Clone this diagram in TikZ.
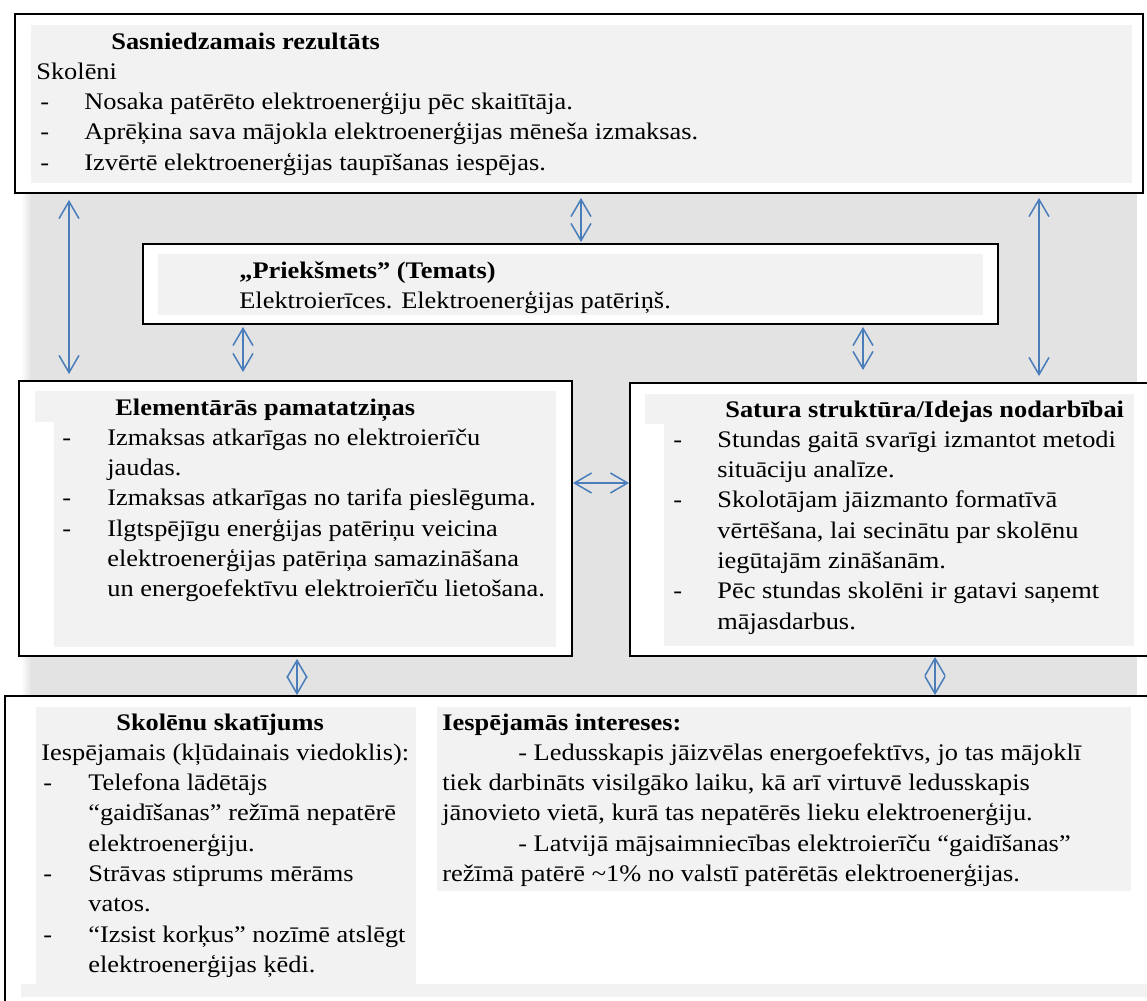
\documentclass[tikz,border=0pt]{standalone}
\usepackage{fontspec}
\setmainfont{Liberation Serif}[FakeStretch=1.11]
\usepackage{tikz}
\usetikzlibrary{arrows.meta}
\usetikzlibrary{fit}
\newlength{\pxu}
\setlength{\pxu}{0.526pt}
\definecolor{arrowblue}{HTML}{4A7EBB}
\definecolor{panelgray}{HTML}{E3E3E3}
\definecolor{shadegray}{HTML}{F2F2F2}
\newcommand{\dsh}[1]{\makebox[#1\pxu][l]{-}}
\newcommand{\ind}[1]{\hspace*{#1\pxu}}
\tikzset{box/.style={draw=black, line width=1pt, fill=white, inner sep=0pt},
         txt/.style={anchor=base west, inner sep=0pt, font=\fontsize{12.5}{15.94}\selectfont},
         arr/.style={draw=arrowblue, line width=0.8pt,
                     {Straight Barb[length=9pt,width=10.5pt]}-{Straight Barb[length=9pt,width=10.5pt]}}}

\begin{document}
\begin{tikzpicture}[x=0.526pt,y=-0.526pt]
\useasboundingbox (0,0) rectangle (1147,1001);
\fill[white] (0,0) rectangle (1147,1001);
% grey panel behind the boxes
\shade[left color=white,right color=panelgray] (21,193) rectangle (31,696);
\fill[panelgray] (31,193) rectangle (1137,696);

% boxes
\node[box, fit={(15,14) (1143,193)}] (res) {};
\node[box, fit={(143,244) (998,324)}] (pri) {};
\node[box, fit={(19,381) (572,656)}] (elem) {};
\node[box, fit={(630,383) (1152,656)}] (sat) {};
\node[box, fit={(5,696) (1165,1020)}] (skol) {};

% shading inside the boxes
\fill[shadegray] (31,25) rectangle (1132,183);
\fill[shadegray] (158,254) rectangle (983,315);
\fill[shadegray] (35,391) rectangle (556,422);
\fill[shadegray] (54,422) rectangle (556,647);
\fill[shadegray] (645,394) rectangle (1134,424);
\fill[shadegray] (664,424) rectangle (1134,646);
\fill[shadegray] (36,707) rectangle (416,984);
\fill[shadegray] (437,707) rectangle (1131,891);
\fill[shadegray] (21,984) rectangle (1147,997);

% texts
\node[txt] (restxt) at (36,49) {\begin{tabular}[t]{@{}l@{}}
\ind{75}\textbf{Sasniedzamais rezultāts}\\
Skolēni\\
\ind{4}\dsh{44}Nosaka patērēto elektroenerģiju pēc skaitītāja.\\
\ind{4}\dsh{44}Aprēķina sava mājokla elektroenerģijas mēneša izmaksas.\\
\ind{4}\dsh{44}Izvērtē elektroenerģijas taupīšanas iespējas.
\end{tabular}};
\node[txt] (pritxt) at (239,278) {\begin{tabular}[t]{@{}l@{}}
\textbf{„Priekšmets” (Temats)}\\
Elektroierīces. Elektroenerģijas patēriņš.
\end{tabular}};
\node[txt] (elemtxt) at (62,415) {\begin{tabular}[t]{@{}l@{}}
\ind{53}\textbf{Elementārās pamatatziņas}\\
\dsh{45}Izmaksas atkarīgas no elektroierīču\\
\ind{45}jaudas.\\
\dsh{45}Izmaksas atkarīgas no tarifa pieslēguma.\\
\dsh{45}Ilgtspējīgu enerģijas patēriņu veicina\\
\ind{45}elektroenerģijas patēriņa samazināšana\\
\ind{45}un energoefektīvu elektroierīču lietošana.
\end{tabular}};
\node[txt] (sattxt) at (673,417) {\begin{tabular}[t]{@{}l@{}}
\ind{52}\textbf{Satura struktūra/Idejas nodarbībai}\\
\dsh{44}Stundas gaitā svarīgi izmantot metodi\\
\ind{44}situāciju analīze.\\
\dsh{44}Skolotājam jāizmanto formatīvā\\
\ind{44}vērtēšana, lai secinātu par skolēnu\\
\ind{44}iegūtajām zināšanām.\\
\dsh{44}Pēc stundas skolēni ir gatavi saņemt\\
\ind{44}mājasdarbus.
\end{tabular}};
\node[txt] (skoltxt) at (41,730) {\begin{tabular}[t]{@{}l@{}}
\ind{75}\textbf{Skolēnu skatījums}\\
Iespējamais (kļūdainais viedoklis):\\
\ind{2}\dsh{45}Telefona lādētājs\\
\ind{47}“gaidīšanas” režīmā nepatērē\\
\ind{47}elektroenerģiju.\\
\ind{2}\dsh{45}Strāvas stiprums mērāms\\
\ind{47}vatos.\\
\ind{2}\dsh{45}“Izsist korķus” nozīmē atslēgt\\
\ind{47}elektroenerģijas ķēdi.
\end{tabular}};
\node[txt] (inttxt) at (442,730) {\begin{tabular}[t]{@{}l@{}}
\textbf{Iespējamās intereses:}\\
\ind{76}- Ledusskapis jāizvēlas energoefektīvs, jo tas mājoklī\\
tiek darbināts visilgāko laiku, kā arī virtuvē ledusskapis\\
jānovieto vietā, kurā tas nepatērēs lieku elektroenerģiju.\\
\ind{76}- Latvijā mājsaimniecības elektroierīču “gaidīšanas”\\
režīmā patērē \textasciitilde1\% no valstī patērētās elektroenerģijas.
\end{tabular}};

% arrows
\coordinate (c1) at (69,0);
\coordinate (c2) at (581,0);
\coordinate (c3) at (1039,0);
\coordinate (c4) at (243,0);
\coordinate (c5) at (863,0);
\coordinate (c6) at (0,483);
\coordinate (c7) at (297,0);
\coordinate (c8) at (935,0);
\draw[arr, shorten <=6\pxu, shorten >=6\pxu] (res.south -| c1) -- (elem.north -| c1);
\draw[arr, shorten <=4\pxu, shorten >=1\pxu] (res.south -| c2) -- (pri.north -| c2);
\draw[arr, shorten <=4\pxu, shorten >=6\pxu] (res.south -| c3) -- (sat.north -| c3);
\draw[arr, shorten <=2\pxu, shorten >=8\pxu] (pri.south -| c4) -- (elem.north -| c4);
\draw[arr, shorten <=2\pxu, shorten >=12\pxu] (pri.south -| c5) -- (sat.north -| c5);
\draw[arr] (elem.east |- c6) -- (sat.west |- c6);
\draw[arr, shorten <=2\pxu] (elem.south -| c7) -- (skol.north -| c7);
\draw[arr] (sat.south -| c8) -- (skol.north -| c8);
\end{tikzpicture}
\end{document}
